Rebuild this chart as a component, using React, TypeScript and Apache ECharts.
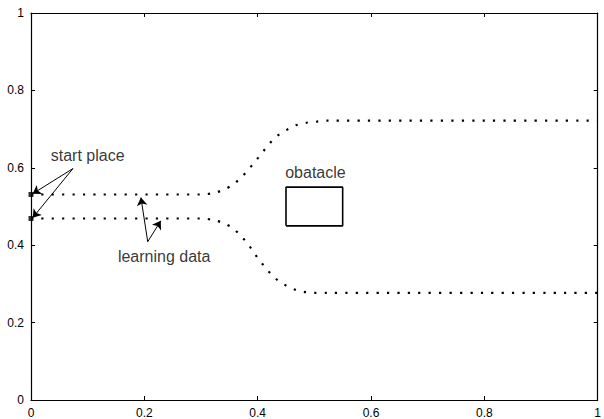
import React, { useEffect, useRef } from "react";
import * as echarts from "echarts";

const upperX = [0, 0.3, 0.323, 0.341, 0.357, 0.371, 0.384, 0.396, 0.408, 0.42, 0.434, 0.449, 0.466, 0.484, 0.503, 0.521, 1];
const upperY = [0.531, 0.531, 0.535, 0.544, 0.557, 0.575, 0.596, 0.617, 0.639, 0.661, 0.682, 0.696, 0.709, 0.716, 0.719, 0.722, 0.722];
const lowerX = [0, 0.3, 0.323, 0.341, 0.357, 0.371, 0.383, 0.393, 0.405, 0.417, 0.43, 0.445, 0.462, 0.48, 0.499, 0.52, 1];
const lowerY = [0.469, 0.469, 0.465, 0.456, 0.443, 0.423, 0.403, 0.381, 0.358, 0.336, 0.316, 0.3, 0.287, 0.28, 0.277, 0.277, 0.277];
const startPoints = [[0, 0.531], [0, 0.469]];
const obstacleX = [0.45, 0.55, 0.55, 0.45, 0.45];
const obstacleY = [0.45, 0.45, 0.55, 0.55, 0.45];
const annotations = [
  { text: "start place", x: 0.1, y: 0.631 },
  { text: "learning data", x: 0.235, y: 0.37 },
  { text: "obatacle", x: 0.502, y: 0.587 },
];
const arrows = [
  [[0.074, 0.598], [0.003, 0.533]],
  [[0.074, 0.598], [0.003, 0.471]],
  [[0.206, 0.409], [0.194, 0.523]],
  [[0.206, 0.409], [0.229, 0.463]],
];

const zip = (xs: number[], ys: number[]) => xs.map((x, i) => [x, ys[i]]);

export default function App() {
  const ref = useRef<HTMLDivElement>(null);
  useEffect(() => {
    if (!ref.current) return;
    const chart = echarts.init(ref.current, null, { renderer: "svg" });
    const font = "'Liberation Sans', Arial, Helvetica, sans-serif";
    const axisCommon = {
      type: "value" as const,
      min: 0,
      max: 1,
      interval: 0.2,
      splitLine: { show: false },
      axisLine: { show: true, onZero: false, lineStyle: { color: "#000", width: 1.2 } },
      axisTick: { show: true, inside: true, length: 4, lineStyle: { color: "#000", width: 1 } },
    };
    const labelStyle = {
      color: "#000",
      fontSize: 12,
      fontFamily: font,
      formatter: (v: number) => String(Math.round(v * 10) / 10),
    };
    const dotted = { color: "#000", width: 2.2, type: [2.2, 8.2], cap: "butt" };
    chart.setOption({
      animation: false,
      grid: { left: 31, right: 4, top: 13, bottom: 19 },
      xAxis: [
        { ...axisCommon, position: "bottom", axisLabel: { ...labelStyle, margin: 7 } },
        { ...axisCommon, position: "top", axisLabel: { show: false } },
      ],
      yAxis: [
        { ...axisCommon, position: "left", axisLabel: { ...labelStyle, margin: 7 } },
        { ...axisCommon, position: "right", axisLabel: { show: false } },
      ],
      series: [
        {
          type: "line",
          data: zip(upperX, upperY),
          smooth: 0.3,
          showSymbol: false,
          symbol: "none",
          lineStyle: dotted,
        },
        {
          type: "line",
          data: zip(lowerX, lowerY),
          smooth: 0.3,
          showSymbol: false,
          symbol: "none",
          lineStyle: dotted,
        },
        {
          type: "line",
          data: zip(obstacleX, obstacleY),
          showSymbol: false,
          symbol: "none",
          lineStyle: { color: "#000", width: 1.6, type: "solid" },
        },
        {
          type: "scatter",
          data: startPoints,
          symbol: "rect",
          symbolSize: 5,
          clip: false,
          itemStyle: { color: "#000" },
          z: 5,
        },
        {
          type: "scatter",
          data: annotations.map((a) => ({ value: [a.x, a.y], name: a.text })),
          symbolSize: 0,
          label: {
            show: true,
            position: "inside",
            formatter: (p: any) => p.name,
            color: "#000",
            fontSize: 16,
            fontFamily: font,
          },
          markLine: {
            silent: true,
            symbol: ["none", "arrow"],
            symbolSize: 8,
            label: { show: false },
            lineStyle: { color: "#000", width: 1, type: "solid" },
            data: arrows.map(([a, b]) => [{ coord: a }, { coord: b }]),
          },
        },
      ],
    });
    return () => chart.dispose();
  }, []);
  return <div ref={ref} style={{ position: "absolute", left: 0, top: 0, width: 604, height: 419 }} />;
}
